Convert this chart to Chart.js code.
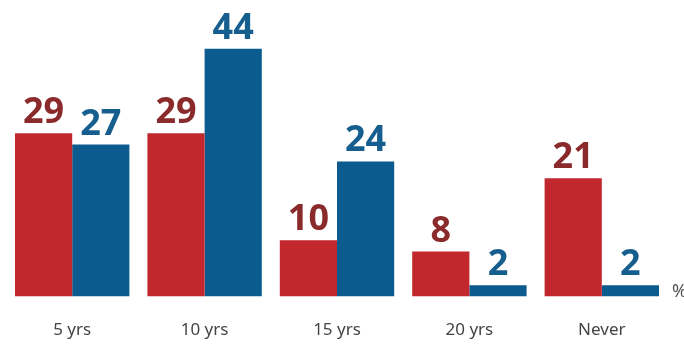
<!DOCTYPE html>
<html>
<head>
<meta charset="utf-8">
<title>Survey chart</title>
<script src="https://cdn.jsdelivr.net/npm/chart.js"></script>
<style>
  html, body { margin: 0; padding: 0; background: #ffffff; }
  .chart-container { position: relative; width: 684px; height: 350px; }
</style>
</head>
<body>
<div class="chart-container">
  <canvas id="chart"></canvas>
</div>
<script>
const categories = ['5 yrs', '10 yrs', '15 yrs', '20 yrs', 'Never'];
const redValues = [29, 29, 10, 8, 21];
const blueValues = [27, 44, 24, 2, 2];

const barRed = '#c1272d';
const barBlue = '#0b5b8e';
const labelRed = '#8a2a2b';
const labelBlue = '#165e8e';

// value labels above bars, plus the "%" mark at the right of the baseline
const valueLabels = {
  id: 'valueLabels',
  afterDatasetsDraw(chart) {
    const ctx = chart.ctx;
    ctx.save();
    ctx.font = 'bold 36px "Noto Sans", sans-serif';
    ctx.textAlign = 'center';
    ctx.textBaseline = 'alphabetic';
    chart.data.datasets.forEach((ds, i) => {
      const meta = chart.getDatasetMeta(i);
      ctx.fillStyle = i === 0 ? labelRed : labelBlue;
      meta.data.forEach((bar, j) => {
        ctx.fillText(String(ds.data[j]), bar.x, bar.y - 10);
      });
    });
    const area = chart.chartArea;
    ctx.font = '18px "Noto Sans", sans-serif';
    ctx.fillStyle = '#555555';
    ctx.textAlign = 'left';
    ctx.fillText('%', area.right + 4, area.bottom);
    ctx.restore();
  }
};

new Chart(document.getElementById('chart').getContext('2d'), {
  type: 'bar',
  data: {
    labels: categories,
    datasets: [
      { label: 'Red', data: redValues, backgroundColor: barRed },
      { label: 'Blue', data: blueValues, backgroundColor: barBlue }
    ]
  },
  options: {
    responsive: true,
    maintainAspectRatio: false,
    animation: false,
    layout: { padding: { top: 15, left: 6, right: 16, bottom: -5 } },
    datasets: { bar: { categoryPercentage: 0.864, barPercentage: 1.0 } },
    plugins: {
      legend: { display: false },
      tooltip: { enabled: false }
    },
    scales: {
      x: {
        grid: { display: false },
        border: { display: false },
        ticks: {
          color: '#444444',
          padding: 15,
          font: { family: '"Noto Sans", sans-serif', size: 17 }
        }
      },
      y: {
        display: false,
        min: 0,
        max: 50
      }
    }
  },
  plugins: [valueLabels]
});
</script>
</body>
</html>
